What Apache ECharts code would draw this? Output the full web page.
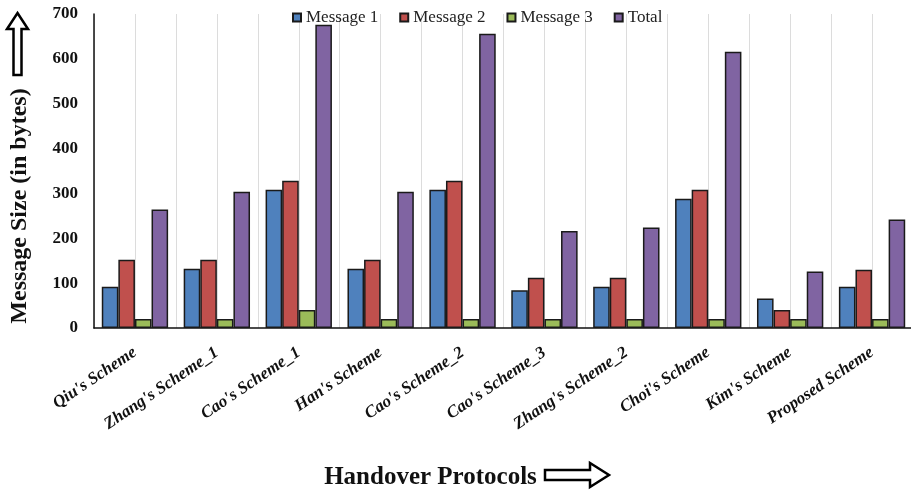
<!DOCTYPE html>
<html>
<head>
<meta charset="utf-8">
<script src="https://cdn.jsdelivr.net/npm/echarts@6/dist/echarts.min.js"></script>
<style>
  html, body { margin: 0; padding: 0; background: #fff; }
  #chart { width: 911px; height: 490px; }
</style>
</head>
<body>
<div id="chart"></div>
<script>
// Handover protocols compared by message size
const schemes = ["Qiu's Scheme", "Zhang's Scheme_1", "Cao's Scheme_1", "Han's Scheme", "Cao's Scheme_2",
  "Cao's Scheme_3", "Zhang's Scheme_2", "Choi's Scheme", "Kim's Scheme", "Proposed Scheme"];
const message1 = [92, 132, 308, 132, 308, 84, 92, 288, 66, 92];
const message2 = [152, 152, 328, 152, 328, 112, 112, 308, 40, 130];
const message3 = [20, 20, 40, 20, 20, 20, 20, 20, 20, 20];
const total = [264, 304, 676, 304, 656, 216, 224, 616, 126, 242];
const yTicks = { min: 0, max: 700, step: 100 };

const serif = "'Liberation Serif', 'Times New Roman', serif";
const colors = ['#4F81BD', '#C0504D', '#9BBB59', '#8064A2'];
const names = ['Message 1', 'Message 2', 'Message 3', 'Total'];
const values = [message1, message2, message3, total];

// half-category slots, used only for the light vertical grid
const halfSlots = new Array(schemes.length * 2).fill('');

const chart = echarts.init(document.getElementById('chart'), null, { renderer: 'canvas' });

chart.setOption({
  backgroundColor: '#ffffff',
  animation: false,
  color: colors,
  legend: {
    data: names,
    left: 287,
    top: 4,
    icon: 'rect',
    itemWidth: 8,
    itemHeight: 8,
    itemGap: 21,
    textStyle: { fontFamily: serif, fontSize: 17, color: '#222' }
  },
  grid: {
    left: 94, width: 819, top: 14, bottom: 162,
    containLabel: false,
    outerBoundsMode: 'none'
  },
  xAxis: [
    {
      type: 'category',
      data: schemes,
      boundaryGap: true,
      axisLine: { lineStyle: { color: '#111', width: 1.5 } },
      axisTick: { show: false },
      splitLine: { show: false },
      axisLabel: {
        interval: 0,
        rotate: 34,
        margin: 23,
        fontFamily: serif,
        fontSize: 17,
        fontWeight: 'bold',
        fontStyle: 'italic',
        color: '#111'
      },
      name: 'Handover Protocols',
      nameLocation: 'middle',
      nameGap: 137,
      nameTextStyle: {
        fontFamily: serif,
        fontSize: 25,
        fontWeight: 'bold',
        color: '#111',
        padding: [0, 146, 0, 0]
      }
    },
    {
      type: 'category',
      data: halfSlots,
      boundaryGap: true,
      position: 'bottom',
      axisLine: { show: false },
      axisTick: { show: false },
      axisLabel: { show: false },
      splitLine: { show: true, lineStyle: { color: '#dcdcdc', width: 1 } }
    }
  ],
  yAxis: {
    type: 'value',
    min: yTicks.min,
    max: yTicks.max,
    interval: yTicks.step,
    axisLine: { show: true, lineStyle: { color: '#111', width: 1.5 } },
    axisTick: { show: false },
    splitLine: { show: false },
    axisLabel: {
      margin: 16,
      fontFamily: serif,
      fontSize: 17,
      fontWeight: 'bold',
      color: '#111'
    },
    name: 'Message Size (in bytes)',
    nameLocation: 'middle',
    nameGap: 62,
    nameTextStyle: {
      fontFamily: serif,
      fontSize: 24,
      fontWeight: 'bold',
      color: '#111',
      padding: [0, 70, 0, 0]
    }
  },
  series: names.map((n, i) => ({
    name: n,
    type: 'bar',
    xAxisIndex: 0,
    data: values[i],
    barGap: '0%',
    barCategoryGap: '19%',
    itemStyle: { color: colors[i], borderColor: '#1a1a1a', borderWidth: 1.5 }
  })),
  // hollow arrows beside the axis titles
  graphic: [
    {
      type: 'polygon',
      shape: { points: [[17.5, 13], [28, 29], [21.5, 29], [21.5, 75], [13.5, 75], [13.5, 29], [7, 29]] },
      style: { fill: '#fff', stroke: '#000', lineWidth: 2.5 }
    },
    {
      type: 'polygon',
      shape: { points: [[545, 470], [590, 470], [590, 463], [609, 475], [590, 487], [590, 480], [545, 480]] },
      style: { fill: '#fff', stroke: '#000', lineWidth: 2.5 }
    }
  ]
});
</script>
</body>
</html>
